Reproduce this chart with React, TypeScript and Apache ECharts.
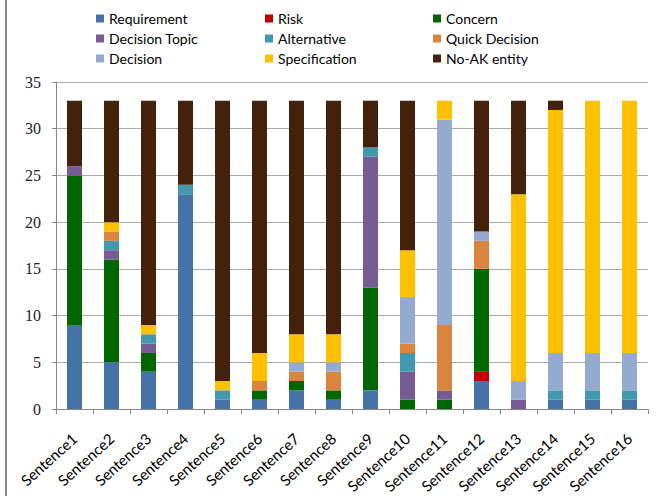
import React, { useEffect, useRef } from "react";
import * as echarts from "echarts";

const categories = [
  "Sentence1", "Sentence2", "Sentence3", "Sentence4", "Sentence5", "Sentence6", "Sentence7", "Sentence8",
  "Sentence9", "Sentence10", "Sentence11", "Sentence12", "Sentence13", "Sentence14", "Sentence15", "Sentence16",
];

const requirement = [9, 5, 4, 23, 1, 1, 2, 1, 2, 0, 0, 3, 0, 1, 1, 1];
const risk = [0, 0, 0, 0, 0, 0, 0, 0, 0, 0, 0, 1, 0, 0, 0, 0];
const concern = [16, 11, 2, 0, 0, 1, 1, 1, 11, 1, 1, 11, 0, 0, 0, 0];
const decisionTopic = [1, 1, 1, 0, 0, 0, 0, 0, 14, 3, 1, 0, 1, 0, 0, 0];
const alternative = [0, 1, 1, 1, 1, 0, 0, 0, 1, 2, 0, 0, 0, 1, 1, 1];
const quickDecision = [0, 1, 0, 0, 0, 1, 1, 2, 0, 1, 7, 3, 0, 0, 0, 0];
const decision = [0, 0, 0, 0, 0, 0, 1, 1, 0, 5, 22, 1, 2, 4, 4, 4];
const specification = [0, 1, 1, 0, 1, 3, 3, 3, 0, 5, 2, 0, 20, 26, 27, 27];
const noAk = [7, 13, 24, 9, 30, 27, 25, 25, 5, 16, 0, 14, 10, 1, 0, 0];

const seriesNames = [
  "Requirement", "Risk", "Concern", "Decision Topic", "Alternative",
  "Quick Decision", "Decision", "Specification", "No-AK entity",
];
const seriesData = [requirement, risk, concern, decisionTopic, alternative, quickDecision, decision, specification, noAk];
const seriesColors = ["#4572A7", "#C00000", "#006600", "#775B94", "#4198AF", "#DB843D", "#94AACF", "#FFC000", "#43210A"];

const legendColumns = [
  ["Requirement", "Decision Topic", "Decision"],
  ["Risk", "Alternative", "Specification"],
  ["Concern", "Quick Decision", "No-AK entity"],
];
const legendLefts = [91, 260, 428];

export default function App() {
  const ref = useRef<HTMLDivElement>(null);
  useEffect(() => {
    const chart = echarts.init(ref.current!, null, { renderer: "svg" });
    chart.setOption({
      animation: false,
      backgroundColor: "#fff",
      legend: legendColumns.map((col, i) => ({
        data: col,
        orient: "vertical",
        left: legendLefts[i],
        top: 6,
        itemWidth: 8,
        itemHeight: 8,
        itemGap: 5,
        icon: "rect",
        textStyle: { fontFamily: "Lato", fontSize: 14, color: "#000", lineHeight: 15 },
      })),
      grid: { left: 56, right: 22, top: 82, bottom: 84, containLabel: false },
      xAxis: {
        type: "category",
        data: categories,
        axisLine: { lineStyle: { color: "#888" } },
        axisTick: { show: true, length: 5, lineStyle: { color: "#888" } },
        axisLabel: {
          rotate: 42,
          margin: 27,
          fontFamily: "Lato",
          fontSize: 15,
          color: "#000",
          interval: 0,
        },
      },
      yAxis: {
        type: "value",
        min: 0,
        max: 35,
        interval: 5,
        axisLine: { show: true, lineStyle: { color: "#888" } },
        axisTick: { show: true, length: 4, lineStyle: { color: "#888" } },
        splitLine: { lineStyle: { color: "#aaa" } },
        axisLabel: { fontFamily: "Liberation Serif", fontSize: 16, color: "#222", margin: 15 },
      },
      graphic: [
        { type: "line", shape: { x1: 6, y1: 0, x2: 6, y2: 496 }, style: { stroke: "#888", lineWidth: 2 } },
      ],
      series: seriesNames.map((name, i) => ({
        name,
        type: "bar",
        stack: "total",
        barWidth: 15,
        data: seriesData[i],
        itemStyle: { color: seriesColors[i] },
      })),
    });
    return () => chart.dispose();
  }, []);
  return <div ref={ref} style={{ position: "absolute", left: 0, top: 0, width: 670, height: 496 }} />;
}
